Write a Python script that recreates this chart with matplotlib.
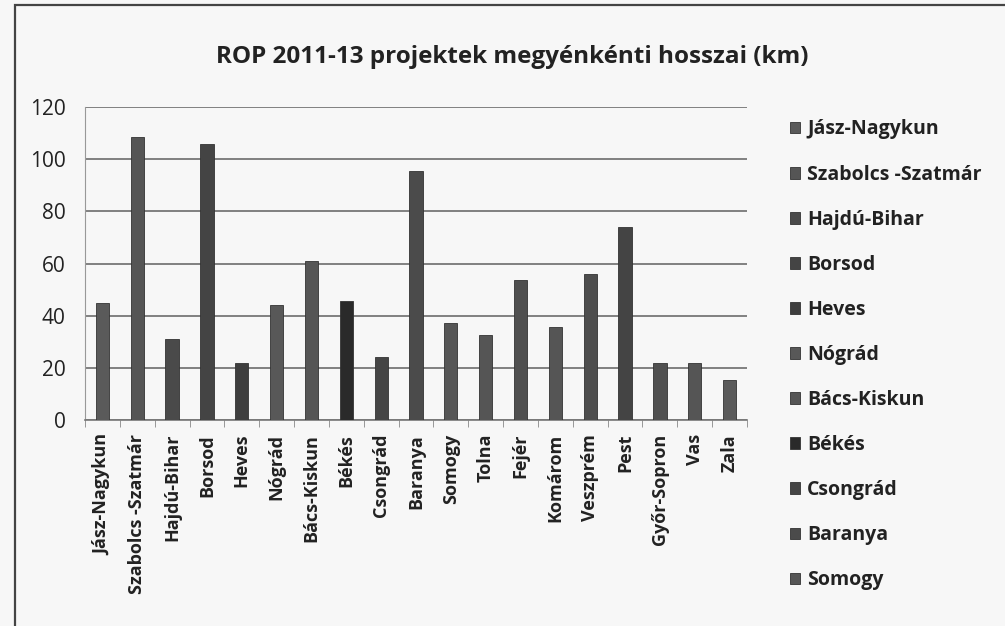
import matplotlib

matplotlib.use("Agg")
import matplotlib.pyplot as plt
from matplotlib.patches import Rectangle
import numpy as np

plt.rcParams["font.family"] = ["Open Sans", "DejaVu Sans"]

counties = [
    "Jász-Nagykun", "Szabolcs -Szatmár", "Hajdú-Bihar", "Borsod", "Heves",
    "Nógrád", "Bács-Kiskun", "Békés", "Csongrád", "Baranya", "Somogy",
    "Tolna", "Fejér", "Komárom", "Veszprém", "Pest", "Győr-Sopron", "Vas", "Zala",
]
lengths_km = [45, 108.5, 31, 106, 22, 44, 61, 45.5, 24, 95.5, 37,
              32.5, 53.5, 35.5, 56, 74, 22, 22, 15.5]
bar_colors = ["#5a5a5a", "#555555", "#4a4a4a", "#444444", "#3e3e3e",
              "#585858", "#555555", "#2a2a2a", "#454545", "#4b4b4b", "#565656",
              "#555555", "#4f4f4f", "#555555", "#4d4d4d", "#444444", "#505050",
              "#555555", "#5a5a5a"]
legend_count = 11

fig = plt.figure(figsize=(10.05, 6.26), dpi=100)
fig.patch.set_facecolor("#f7f7f7")

# outer chart frame (scanned Excel box)
fig.add_artist(Rectangle((15 / 1005, -0.1), 1.2, 1 - 5 / 626 + 0.1,
                         transform=fig.transFigure, fill=False,
                         edgecolor="#444444", linewidth=1.6))

ax = fig.add_axes([85 / 1005, 1 - 420 / 626, (747 - 85) / 1005, (420 - 107) / 626])
ax.set_facecolor("#f7f7f7")

x = np.arange(len(counties))
bars = ax.bar(x, lengths_km, width=0.38, color=bar_colors, edgecolor="#333333",
              linewidth=0.6, zorder=3)

ax.set_ylim(0, 120)
ax.set_xlim(-0.5, len(counties) - 0.5)
ax.set_yticks(np.arange(0, 121, 20))
ax.tick_params(axis="y", length=0, labelsize=15, pad=14, colors="#222222")
ax.yaxis.grid(True, color="#777777", linewidth=1.3, zorder=0)

ax.set_xticks(x)
ax.set_xticklabels(counties, rotation=90, fontsize=13, fontweight="bold",
                   color="#222222")
ax.tick_params(axis="x", length=0, pad=10)
ax.set_xticks(np.arange(-0.5, len(counties), 1), minor=True)
ax.tick_params(axis="x", which="minor", length=5, color="#888888", direction="out")

for side in ["top", "right"]:
    ax.spines[side].set_visible(False)
ax.spines["left"].set_color("#999999")
ax.spines["bottom"].set_color("#777777")
ax.spines["bottom"].set_linewidth(1.2)

fig.text(512 / 1005, 1 - 57 / 626, "ROP 2011-13 projektek megyénkénti hosszai (km)",
         ha="center", va="center", fontsize=17.5, fontweight="bold", color="#222222")

leg = fig.legend(bars[:legend_count], counties[:legend_count],
                 loc="upper left", bbox_to_anchor=(772 / 1005, 1 - 102 / 626),
                 frameon=False, fontsize=14, handlelength=0.55, handleheight=0.55,
                 handletextpad=0.35, labelspacing=1.29)
for t in leg.get_texts():
    t.set_fontweight("bold")
    t.set_color("#222222")

fig.savefig("out.png", dpi=100, facecolor=fig.get_facecolor())
